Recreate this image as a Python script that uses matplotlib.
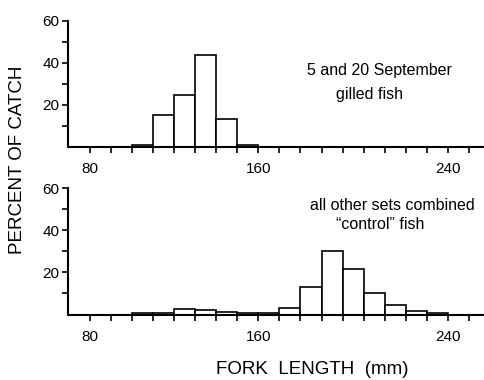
import matplotlib
matplotlib.use("Agg")
import matplotlib.pyplot as plt
import numpy as np

plt.rcParams['font.family'] = ['Liberation Sans', 'DejaVu Sans']

# Bin left edges (mm), 10 mm wide
top_bins = [100, 110, 120, 130, 140, 150]
top_pct = [0.8, 15.2, 24.6, 43.8, 13.0, 0.8]

bot_bins = [100, 110, 120, 130, 140, 150, 160, 170, 180, 190, 200, 210, 220, 230, 240]
bot_pct = [0.7, 0.9, 2.7, 2.2, 1.3, 0.6, 0.6, 3.3, 13.2, 30.2, 21.7, 10.3, 4.3, 1.6, 0.8]

# x tick labels as printed in the figure (the "240" label sits one tick to the right)
xlabel_pos = [80, 160, 250]
xlabel_txt = ["80", "160", "240"]
x_minor = list(range(80, 270, 10))
y_major = [20, 40, 60]
y_minor = [10, 30, 50]

W, H = 485, 380
fig = plt.figure(figsize=(W / 100, H / 100), dpi=100)

def ax_rect(left_px, right_px, y0_px, y60_px):
    return [left_px / W, 1 - y0_px / H, (right_px - left_px) / W, (y0_px - y60_px) / H]

ax1 = fig.add_axes(ax_rect(68, 485, 146.5, 20.7))
ax2 = fig.add_axes(ax_rect(68, 485, 314.5, 188.3))

for ax, bins, pct in [(ax1, top_bins, top_pct), (ax2, bot_bins, bot_pct)]:
    ax.bar(bins, pct, width=10, align='edge', facecolor='white',
           edgecolor='black', linewidth=1.2, zorder=2)
    ax.set_xlim(69.5, 267.7)
    ax.set_ylim(0, 60)
    for s in ['top', 'right']:
        ax.spines[s].set_visible(False)
    for s in ['left', 'bottom']:
        ax.spines[s].set_linewidth(1.5)
    ax.set_xticks(xlabel_pos)
    ax.set_xticklabels(xlabel_txt)
    ax.set_xticks(x_minor, minor=True)
    ax.set_yticks(y_major)
    ax.set_yticklabels([str(v) for v in y_major])
    ax.set_yticks(y_minor, minor=True)
    ax.tick_params(axis='x', which='both', direction='out', length=4, width=1.2,
                   pad=7, labelsize=11)
    ax.tick_params(axis='y', which='both', direction='out', length=4, width=1.2,
                   pad=2, labelsize=11)
    ax.patch.set_alpha(0)

fig.text(379 / W, 1 - 71 / H, "5 and 20 September", ha='center', va='center', fontsize=11.5)
fig.text(370 / W, 1 - 94 / H, "gilled fish", ha='center', va='center', fontsize=11.5)
fig.text(392 / W, 1 - 206 / H, "all other sets combined", ha='center', va='center', fontsize=11.5)
fig.text(380 / W, 1 - 225 / H, "\u201ccontrol\u201d fish", ha='center', va='center', fontsize=11.5)

fig.text(18 / W, 1 - 160 / H, "PERCENT OF CATCH", rotation=90, ha='center', va='center',
         fontsize=13.5)
fig.text(312 / W, 1 - 370 / H, "FORK  LENGTH  (mm)", ha='center', va='center', fontsize=13.5)

fig.savefig("out.png", dpi=100)
